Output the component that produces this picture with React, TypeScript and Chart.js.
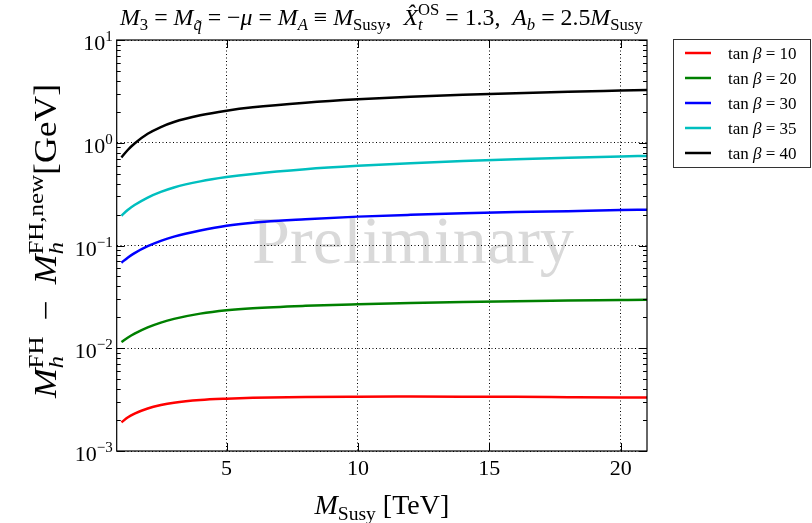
import React, { useEffect, useRef } from 'react';
import { Chart, registerables } from 'chart.js';

Chart.register(...registerables);

// ---------- data ----------
const mSusy = [1, 1.25, 1.5, 2, 2.5, 3, 4, 5, 6, 8, 10, 12, 14, 16, 18, 20, 21];
const tanBeta10 = [0.0019, 0.002128, 0.002312, 0.002594, 0.002799, 0.002951, 0.003133, 0.003228, 0.003289, 0.003357, 0.003381, 0.003388, 0.003381, 0.003365, 0.003342, 0.003319, 0.003311];
const tanBeta20 = [0.01151, 0.01274, 0.01387, 0.01596, 0.01778, 0.01932, 0.02173, 0.02344, 0.02455, 0.02588, 0.02679, 0.02754, 0.02818, 0.02871, 0.02911, 0.02951, 0.02972];
const tanBeta30 = [0.068, 0.0766, 0.0843, 0.0984, 0.111, 0.122, 0.14, 0.156, 0.1667, 0.18, 0.191, 0.199, 0.2056, 0.2113, 0.216, 0.221, 0.223];
const tanBeta35 = [0.195, 0.2228, 0.2477, 0.2931, 0.3327, 0.3673, 0.4207, 0.4634, 0.4977, 0.5521, 0.5957, 0.6324, 0.6637, 0.6918, 0.7161, 0.7362, 0.7447];
const tanBeta40 = [0.7194, 0.8551, 0.984, 1.2218, 1.4223, 1.5922, 1.8493, 2.0512, 2.2131, 2.4547, 2.6485, 2.799, 2.9242, 3.0339, 3.1333, 3.2211, 3.2659];

const seriesValues = [tanBeta10, tanBeta20, tanBeta30, tanBeta35, tanBeta40];
const seriesLabels = ['10', '20', '30', '35', '40'];
const seriesColors = ['#ff0000', '#008000', '#0000ff', '#00bfbf', '#000000'];

const xTicks = [5, 10, 15, 20];
const yTicks = [1e-3, 1e-2, 1e-1, 1, 10];
const yTickExponents = ['\u22123', '\u22122', '\u22121', '0', '1'];

// ---------- text helpers ----------
const FAMILY = '"Liberation Serif", "DejaVu Serif", serif';
const font = (it: boolean, size: number) => `${it ? 'italic ' : ''}${size}px ${FAMILY}`;

type Part = { t: string; it?: boolean; sub?: string; subIt?: boolean; sup?: string; supIt?: boolean };

function drawRich(ctx: CanvasRenderingContext2D, parts: Part[], size: number, x: number, y: number, doDraw: boolean) {
  let cx = x;
  const ss = size * 0.7;
  ctx.textAlign = 'left';
  ctx.textBaseline = 'alphabetic';
  for (const p of parts) {
    ctx.font = font(!!p.it, size);
    const w = ctx.measureText(p.t).width;
    if (doDraw) ctx.fillText(p.t, cx, y);
    cx += w;
    let sw = 0;
    if (p.sub) {
      ctx.font = font(!!p.subIt, ss);
      const w2 = ctx.measureText(p.sub).width;
      if (doDraw) ctx.fillText(p.sub, cx, y + size * 0.22);
      sw = Math.max(sw, w2);
    }
    if (p.sup) {
      ctx.font = font(!!p.supIt, ss);
      const w3 = ctx.measureText(p.sup).width;
      if (doDraw) ctx.fillText(p.sup, cx, y - size * 0.42);
      sw = Math.max(sw, w3);
    }
    cx += sw;
  }
  return cx - x;
}

const titleParts: Part[] = [
  { t: 'M', it: true, sub: '3' },
  { t: ' = ' },
  { t: 'M', it: true, sub: 'q\u0303', subIt: true },
  { t: ' = \u2212' },
  { t: '\u03bc', it: true },
  { t: ' = ' },
  { t: 'M', it: true, sub: 'A', subIt: true },
  { t: ' \u2261 ' },
  { t: 'M', it: true, sub: 'Susy' },
  { t: ',  ' },
  { t: 'X\u0302', it: true, sub: 't', subIt: true, sup: 'OS' },
  { t: ' = 1.3,  ' },
  { t: 'A', it: true, sub: 'b', subIt: true },
  { t: ' = 2.5' },
  { t: 'M', it: true, sub: 'Susy' },
];

const yLabelParts: Part[] = [
  { t: 'M', it: true, sub: 'h', subIt: true, sup: 'FH' },
  { t: ' \u2009\u2212\u2009 ' },
  { t: 'M', it: true, sub: 'h', subIt: true, sup: 'FH,new' },
  { t: '[GeV]' },
];

const xLabelParts: Part[] = [{ t: 'M', it: true, sub: 'Susy' }, { t: ' [TeV]' }];

const decorPlugin = {
  id: 'decor',
  beforeDraw(chart: any) {
    const ctx: CanvasRenderingContext2D = chart.ctx;
    ctx.save();
    ctx.fillStyle = '#d9d9d9';
    let size = 68;
    ctx.font = font(false, size);
    const w = ctx.measureText('Preliminary').width;
    size = size * 322 / w;
    ctx.font = font(false, size);
    ctx.textAlign = 'center';
    ctx.textBaseline = 'alphabetic';
    ctx.fillText('Preliminary', 413, 263);
    ctx.restore();
  },
  afterDraw(chart: any) {
    const ctx: CanvasRenderingContext2D = chart.ctx;
    const { left, right, top, bottom } = chart.chartArea;
    const xs = chart.scales.x;
    const ys = chart.scales.y;
    ctx.save();
    // frame
    ctx.strokeStyle = '#000';
    ctx.lineWidth = 1.2;
    ctx.strokeRect(left, top, right - left, bottom - top);

    // ticks
    ctx.lineWidth = 1;
    ctx.beginPath();
    const major = 8;
    const minor = 4;
    for (const v of xTicks) {
      const px = Math.round(xs.getPixelForValue(v)) + 0.5;
      ctx.moveTo(px, bottom); ctx.lineTo(px, bottom - major);
      ctx.moveTo(px, top); ctx.lineTo(px, top + major);
    }
    for (const v of yTicks) {
      const py = Math.round(ys.getPixelForValue(v)) + 0.5;
      ctx.moveTo(left, py); ctx.lineTo(left + major, py);
      ctx.moveTo(right, py); ctx.lineTo(right - major, py);
    }
    for (let d = -3; d < 1; d++) {
      for (let k = 2; k <= 9; k++) {
        const py = Math.round(ys.getPixelForValue(k * Math.pow(10, d))) + 0.5;
        ctx.moveTo(left, py); ctx.lineTo(left + minor, py);
        ctx.moveTo(right, py); ctx.lineTo(right - minor, py);
      }
    }
    ctx.stroke();

    ctx.fillStyle = '#000';
    // x tick labels
    ctx.font = font(false, 22);
    ctx.textAlign = 'center';
    ctx.textBaseline = 'alphabetic';
    for (const v of xTicks) {
      ctx.fillText(String(v), xs.getPixelForValue(v), 475);
    }
    // y tick labels
    yTicks.forEach((v, i) => {
      const py = ys.getPixelForValue(v);
      ctx.font = font(false, 15);
      const we = ctx.measureText(yTickExponents[i]).width;
      ctx.font = font(false, 22);
      const wb = ctx.measureText('10').width;
      const xr = left - 4;
      ctx.textAlign = 'left';
      ctx.fillText('10', xr - we - wb, py + 10);
      ctx.font = font(false, 15);
      ctx.fillText(yTickExponents[i], xr - we, py + 1);
    });

    // title
    let ts = 19;
    const tw = drawRich(ctx, titleParts, ts, 0, 0, false);
    ts = ts * 523 / tw;
    drawRich(ctx, titleParts, ts, 120, 25, true);

    // x label
    const xw = drawRich(ctx, xLabelParts, 28, 0, 0, false);
    drawRich(ctx, xLabelParts, 28, (left + right) / 2 - xw / 2, 514, true);

    // y label
    const ysz = 31;
    const yw = drawRich(ctx, yLabelParts, ysz, 0, 0, false);
    const sx = Math.min(1.15, 365 / yw);
    ctx.save();
    ctx.translate(56, 241);
    ctx.rotate(-Math.PI / 2);
    ctx.scale(sx, 1);
    drawRich(ctx, yLabelParts, ysz, -yw / 2, 0, true);
    ctx.restore();

    // legend
    const lx = 673.5, ly = 39.5, lw = 137, lh = 128;
    ctx.fillStyle = '#fff';
    ctx.fillRect(lx, ly, lw, lh);
    ctx.strokeStyle = '#333';
    ctx.lineWidth = 1;
    ctx.strokeRect(lx, ly, lw, lh);
    seriesLabels.forEach((lab, i) => {
      const ry = 53 + 25 * i;
      ctx.strokeStyle = seriesColors[i];
      ctx.lineWidth = 2.5;
      ctx.beginPath();
      ctx.moveTo(685, ry);
      ctx.lineTo(711, ry);
      ctx.stroke();
      ctx.fillStyle = '#000';
      drawRich(ctx, [{ t: 'tan ' }, { t: '\u03b2', it: true }, { t: ' = ' + lab }], 17, 728, ry + 6, true);
    });
    ctx.restore();
  },
};

export default function App() {
  const canvasRef = useRef<HTMLCanvasElement | null>(null);

  useEffect(() => {
    const canvas = canvasRef.current;
    if (!canvas) return;
    const chart = new Chart(canvas, {
      type: 'line',
      data: {
        datasets: seriesValues.map((vals, i) => ({
          label: 'tan \u03b2 = ' + seriesLabels[i],
          data: mSusy.map((x, j) => ({ x, y: vals[j] })),
          borderColor: seriesColors[i],
          backgroundColor: seriesColors[i],
          borderWidth: 2.5,
          pointRadius: 0,
          cubicInterpolationMode: 'monotone' as const,
          fill: false,
        })),
      },
      options: {
        responsive: false,
        animation: false,
        devicePixelRatio: 1,
        layout: { padding: { left: 116.7, right: 812 - 647, top: 40, bottom: 523 - 451 } },
        plugins: {
          legend: { display: false },
          title: { display: false },
          tooltip: { enabled: false },
        },
        scales: {
          x: {
            type: 'linear',
            min: 0.82,
            max: 21,
            afterBuildTicks: (s: any) => { s.ticks = xTicks.map((v) => ({ value: v })); },
            afterFit: (s: any) => { s.height = 0; },
            ticks: { display: false },
            grid: { color: '#000', lineWidth: 1, drawTicks: false },
            border: { display: false, dash: [1, 2.5] },
          },
          y: {
            type: 'logarithmic',
            min: 1e-3,
            max: 10,
            afterBuildTicks: (s: any) => { s.ticks = yTicks.map((v) => ({ value: v })); },
            afterFit: (s: any) => { s.width = 0; },
            ticks: { display: false },
            grid: { color: '#000', lineWidth: 1, drawTicks: false },
            border: { display: false, dash: [1, 2.5] },
          },
        },
      } as any,
      plugins: [decorPlugin],
    });
    return () => chart.destroy();
  }, []);

  return (
    <div style={{ position: 'absolute', left: 0, top: 0, width: 812, height: 523, background: '#fff' }}>
      <canvas ref={canvasRef} width={812} height={523} style={{ display: 'block' }} />
    </div>
  );
}
